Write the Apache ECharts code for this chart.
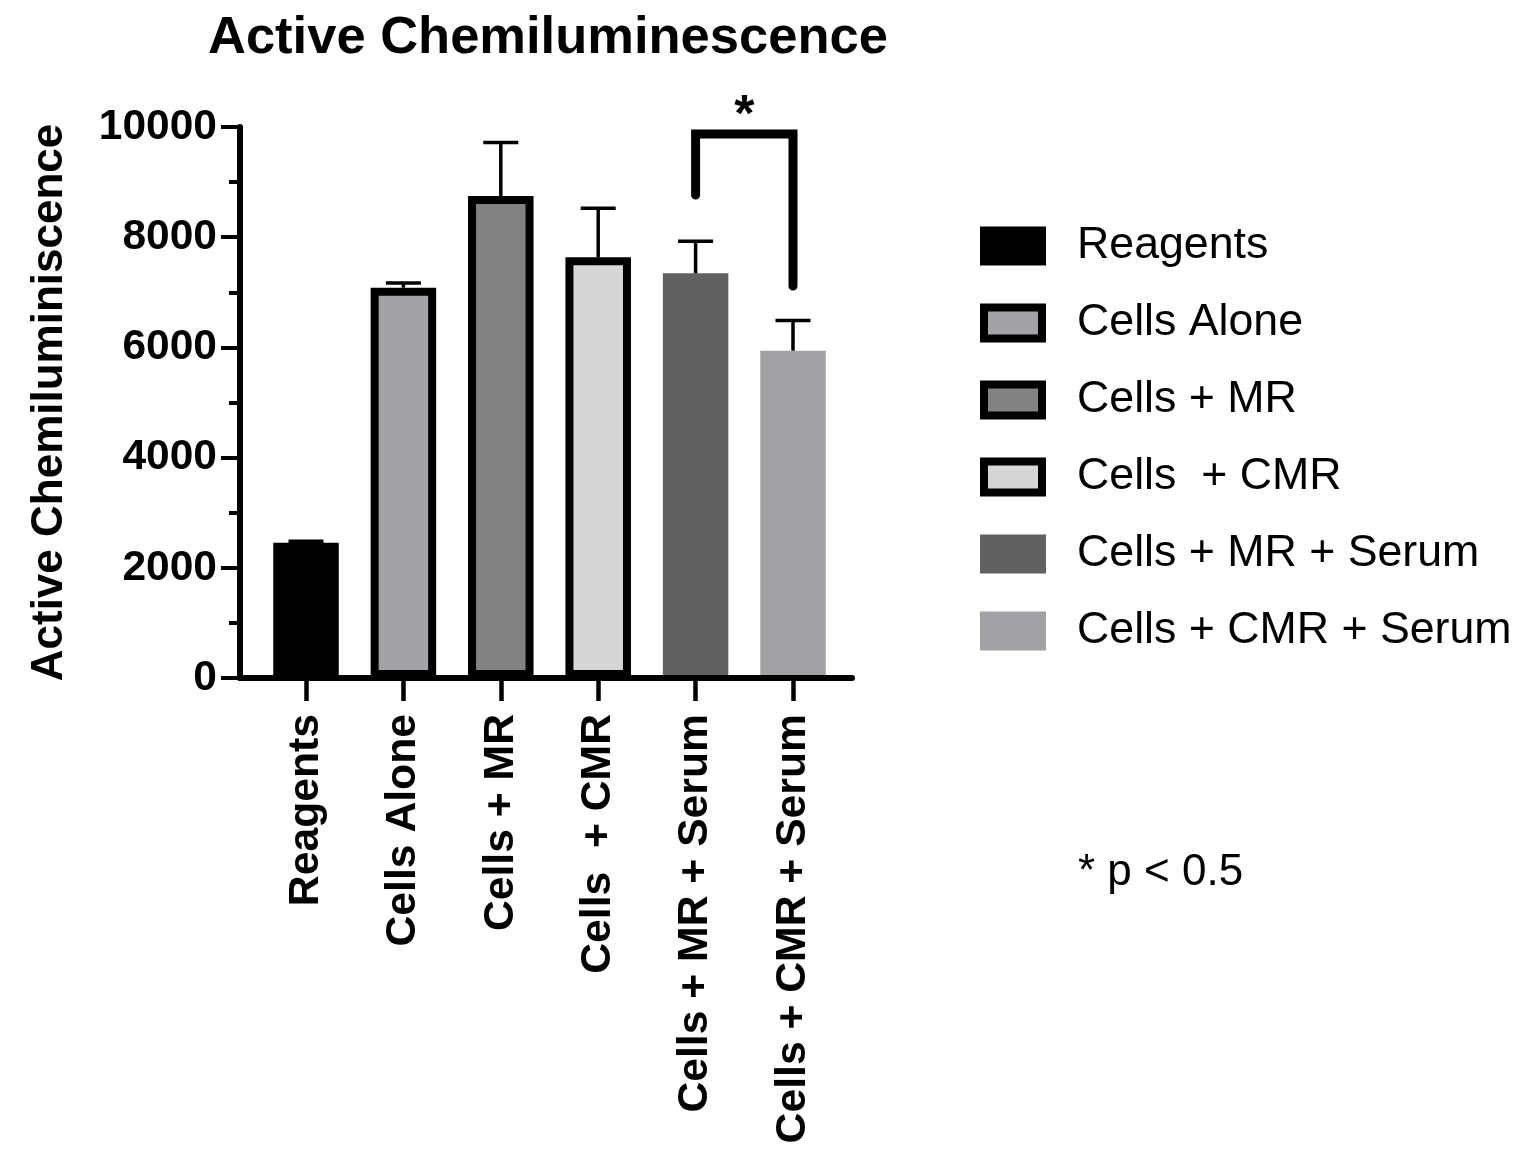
<!DOCTYPE html>
<html><head><meta charset="utf-8">
<script src="https://cdn.jsdelivr.net/npm/echarts@6/dist/echarts.min.js"></script>
<style>html,body{margin:0;padding:0;background:#fff}#c{width:1528px;height:1163px}</style>
</head><body><div id="c"></div>
<script>
// ---- data ----
const categories = ['Reagents', 'Cells Alone', 'Cells + MR', 'Cells  + CMR', 'Cells + MR + Serum', 'Cells + CMR + Serum'];
const means = [2455, 7083, 8748, 7635, 7345, 5940];
const errors = [25, 86, 971, 891, 582, 548];
const fillColors = ['#000000', '#a3a2a7', '#828282', '#d6d6d6', '#616161', '#a2a1a6'];
const outlined = [false, true, true, true, false, false];
const yMin = 0, yMax = 10000, yStep = 2000;
// significance bracket: [from category, to category, top value, left leg end, right leg end]
const bracket = [4, 5, 9873, 8766, 7114];
const sigLabel = '*';
const noteText = '* p < 0.5';

const FONT = "'Liberation Sans', Arial, Helvetica, sans-serif";
const chart = echarts.init(document.getElementById('c'), null, {renderer: 'canvas'});

const barSeries = categories.map((name, i) => ({
  type: 'bar',
  name: name,
  xAxisIndex: 0, yAxisIndex: 0,
  barWidth: 65.5,
  barGap: '-100%',
  data: categories.map((c, j) => j === i ? means[i] : '-'),
  itemStyle: {color: fillColors[i], borderColor: outlined[i] ? '#000' : fillColors[i], borderWidth: outlined[i] ? 8 : 0},
  emphasis: {disabled: true},
  z: 2
}));

const errSeries = {
  type: 'custom',
  xAxisIndex: 0, yAxisIndex: 0,
  data: categories.map((c, i) => [i, means[i], errors[i]]),
  renderItem: function (params, api) {
    const x = api.value(0), v = api.value(1), e = api.value(2);
    const p0 = api.coord([x, v]);
    const p1 = api.coord([x, v + e]);
    return {type: 'group', children: [
      {type: 'line', shape: {x1: p0[0], y1: p0[1], x2: p1[0], y2: p1[1]}, style: {stroke: '#000', lineWidth: 3.5}},
      {type: 'line', shape: {x1: p1[0] - 17.5, y1: p1[1], x2: p1[0] + 17.5, y2: p1[1]}, style: {stroke: '#000', lineWidth: 3.5}}
    ]};
  },
  z: 3, silent: true
};

const bracketSeries = {
  type: 'custom',
  xAxisIndex: 0, yAxisIndex: 0,
  data: [bracket],
  clip: false,
  renderItem: function (params, api) {
    const a = api.value(0), b = api.value(1), top = api.value(2), le = api.value(3), re = api.value(4);
    const pL = api.coord([a, le]), pT1 = api.coord([a, top]), pT2 = api.coord([b, top]), pR = api.coord([b, re]);
    return {type: 'group', children: [
      {type: 'polyline', shape: {points: [pL, pT1, pT2, pR]}, style: {stroke: '#000', lineWidth: 9, fill: null, lineCap: 'round', lineJoin: 'miter'}},
      {type: 'text', x: (pT1[0] + pT2[0]) / 2, y: pT1[1] - 17, style: {text: sigLabel, fontSize: 52, fontWeight: 'bold', fontFamily: FONT, fill: '#000', align: 'center', verticalAlign: 'middle'}}
    ]};
  },
  z: 3, silent: true
};

const option = {
  backgroundColor: '#fff',
  animation: false,
  title: {
    text: 'Active Chemiluminescence',
    left: 203, top: 7,
    textStyle: {fontSize: 52.5, fontWeight: 'bold', color: '#000', fontFamily: FONT}
  },
  legend: {
    orient: 'vertical',
    left: 975, top: 211,
    itemWidth: 58, itemHeight: 31, itemGap: 17,
    icon: 'rect',
    selectedMode: false,
    textStyle: {fontSize: 44.7, lineHeight: 44, color: '#000', fontFamily: FONT, padding: [16, 0, 0, 30]},
    data: categories.map((name, i) => ({
      name: name,
      itemStyle: {color: fillColors[i], borderColor: outlined[i] ? '#000' : fillColors[i], borderWidth: 8}
    }))
  },
  grid: [
    {left: 257.3, top: 127, width: 584.4, height: 551, containLabel: false},
    {left: 240, top: 127, width: 612, height: 551, containLabel: false}
  ],
  xAxis: [
    {
      type: 'category', gridIndex: 0, data: categories,
      axisLine: {show: false},
      axisTick: {show: true, alignWithLabel: true, length: 23, lineStyle: {color: '#000', width: 4.5}},
      axisLabel: {rotate: 90, interval: 0, margin: 36, fontSize: 42.7, fontWeight: 'bold', color: '#000', fontFamily: FONT},
      splitLine: {show: false}
    },
    {
      type: 'value', gridIndex: 1, min: 0, max: 1,
      axisLine: {show: true, lineStyle: {color: '#000', width: 6}},
      axisTick: {show: false}, axisLabel: {show: false}, splitLine: {show: false},
      z: 10
    }
  ],
  yAxis: [
    {type: 'value', gridIndex: 0, min: yMin, max: yMax, interval: yStep, show: false, splitLine: {show: false}},
    {
      type: 'value', gridIndex: 1, min: yMin, max: yMax, interval: yStep,
      name: 'Active Chemiluminiscence', nameLocation: 'middle', nameGap: 168,
      nameTextStyle: {fontSize: 44, fontWeight: 'bold', color: '#000', fontFamily: FONT},
      axisLine: {show: true, lineStyle: {color: '#000', width: 6}},
      axisTick: {show: true, length: 19, lineStyle: {color: '#000', width: 4}},
      minorTick: {show: true, splitNumber: 2, length: 11, lineStyle: {color: '#000', width: 4}},
      axisLabel: {margin: 23, fontSize: 42.5, fontWeight: 'bold', color: '#000', fontFamily: FONT, formatter: (v) => String(v)},
      splitLine: {show: false}, minorSplitLine: {show: false},
      z: 10
    }
  ],
  graphic: [
    {type: 'text', left: 1078, top: 851, style: {text: noteText, fontSize: 44, fontFamily: FONT, fill: '#000'}}
  ],
  series: [...barSeries, errSeries, bracketSeries]
};
chart.setOption(option);
</script>
</body></html>
